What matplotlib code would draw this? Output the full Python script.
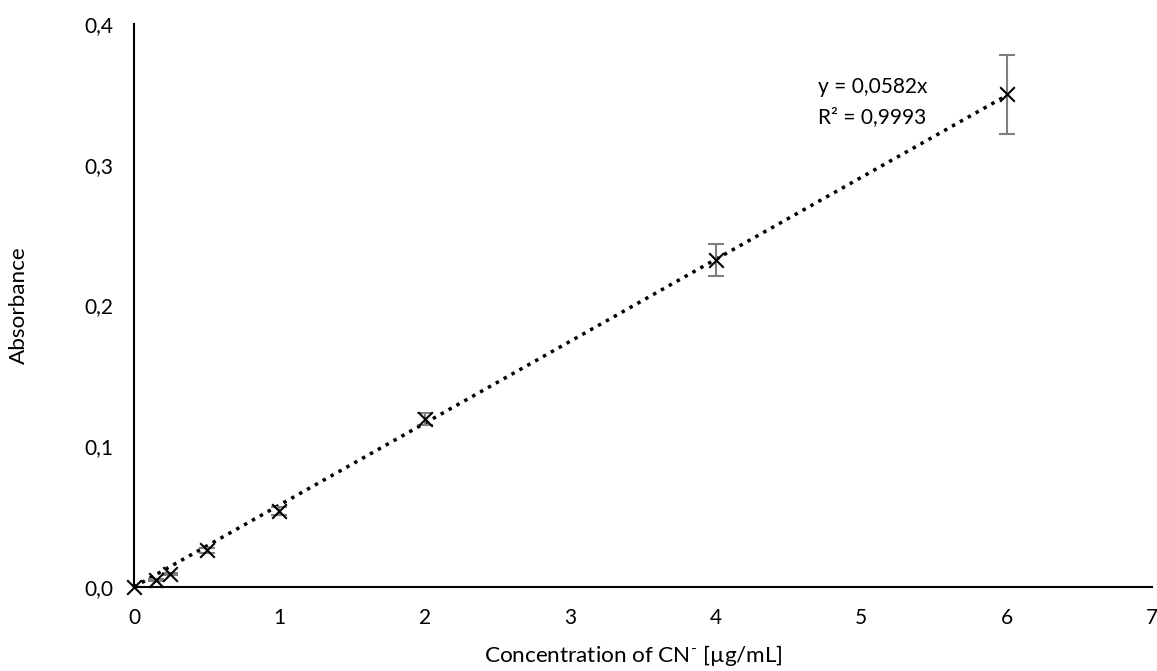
import numpy as np
import matplotlib.pyplot as plt

plt.rcParams['font.family'] = ['Lato', 'DejaVu Sans']
plt.rcParams['mathtext.fontset'] = 'custom'
plt.rcParams['mathtext.rm'] = 'Lato'

conc = [0, 0.15, 0.25, 0.5, 1, 2, 4, 6]
absorb = [0.0, 0.005, 0.0092, 0.026, 0.054, 0.1194, 0.2323, 0.35]
err = [0.0, 0.001, 0.001, 0.002, 0.003, 0.004, 0.0114, 0.028]
slope = 0.0582
r2 = 0.9993

fig = plt.figure(figsize=(11.57, 6.71), dpi=100)
ax = fig.add_axes([0.1158, 0.1252, 0.8799, 0.839])

ax.errorbar(conc, absorb, yerr=err, fmt='none', ecolor='#7f7f7f',
            elinewidth=1.5, capsize=6, capthick=1.5, zorder=2)
ax.scatter(conc, absorb, marker='x', s=110, color='black', linewidths=1.5,
           zorder=3, clip_on=False)

# linear trendline forced through origin
xt = np.array([0, max(conc)])
ax.plot(xt, slope * xt, color='black', linestyle=(0, (1, 1.6)), linewidth=2.5, zorder=1)

ax.text(4.70, 0.355, 'y = 0,0582x', fontsize=15, va='center')
ax.text(4.70, 0.334, 'R² = 0,9993', fontsize=15, va='center')

ax.set_xlim(0, 7)
ax.set_ylim(0, 0.4)
ax.set_xticks(range(8))
ax.set_yticks([0, 0.1, 0.2, 0.3, 0.4])
ax.set_yticklabels(['0,0', '0,1', '0,2', '0,3', '0,4'])
ax.tick_params(length=0, labelsize=15)
ax.tick_params(axis='y', pad=15)
ax.tick_params(axis='x', pad=15)
for s in ['top', 'right']:
    ax.spines[s].set_visible(False)
for s in ['left', 'bottom']:
    ax.spines[s].set_linewidth(1.5)

ax.set_xlabel(r'Concentration of CN$^{\text{-}}$ [µg/mL]', fontsize=16.2)
ax.set_ylabel('Absorbance', fontsize=16.2)
ax.xaxis.set_label_coords(0.491, -0.1)
ax.yaxis.set_label_coords(-0.103, 0.5)

fig.savefig('out.png', dpi=100)
